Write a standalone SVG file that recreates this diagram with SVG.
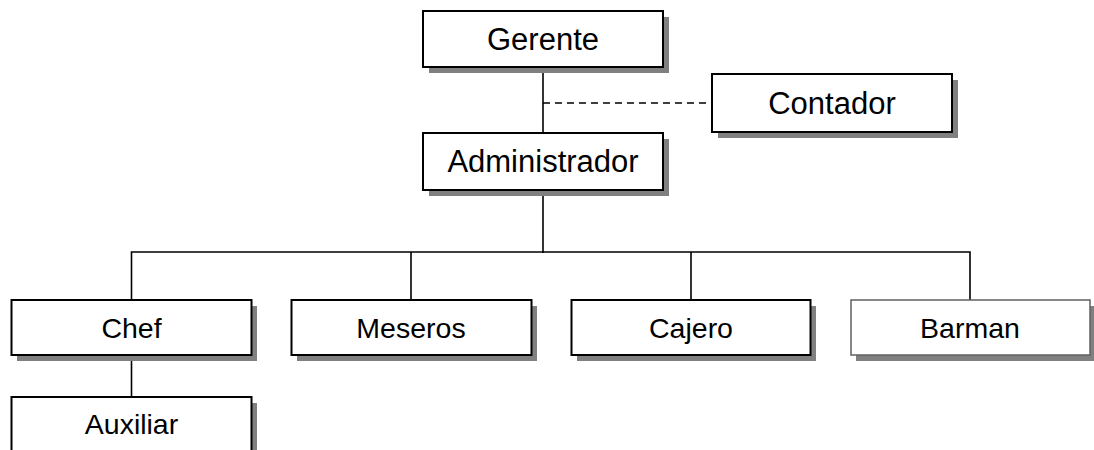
<svg xmlns="http://www.w3.org/2000/svg" width="1094" height="450" viewBox="0 0 1094 450">
  <style>
    .shadow { fill: #808080; stroke: none; }
    .box { fill: #ffffff; stroke: #000000; stroke-width: 2; }
    .box-light { fill: #ffffff; stroke: #606060; stroke-width: 1.5; }
    .label { font-family: "Liberation Sans", Arial, sans-serif; fill: #000000; text-anchor: middle; dominant-baseline: central; }
    .top { font-size: 31px; }
    .low { font-size: 28.5px; }
    .link { fill: none; stroke: #000000; stroke-width: 1.6; }
    .dashed { stroke-dasharray: 7 5; }
  </style>

  <rect width="1094" height="450" fill="#ffffff"/>

  <!-- connectors -->
  <g id="connectors">
    <path class="link" d="M543 67 V133"/>
    <path class="link dashed" d="M543 103 H712"/>
    <path class="link" d="M543 190 V253"/>
    <path class="link" d="M131.5 300 V252 H970 V300"/>
    <path class="link" d="M411 252 V300"/>
    <path class="link" d="M691 252 V300"/>
    <path class="link" d="M131.5 355 V397"/>
  </g>

  <g id="gerente">
    <rect class="shadow" x="429" y="17" width="240" height="56"/>
    <rect class="box" x="423" y="11" width="240" height="56"/>
    <text class="label top" x="543" y="39">Gerente</text>
  </g>

  <g id="contador">
    <rect class="shadow" x="718" y="80" width="240" height="58"/>
    <rect class="box" x="712" y="74" width="240" height="58"/>
    <text class="label top" x="832" y="103">Contador</text>
  </g>

  <g id="administrador">
    <rect class="shadow" x="429" y="139" width="240" height="57"/>
    <rect class="box" x="423" y="133" width="240" height="57"/>
    <text class="label top" x="543" y="161.5">Administrador</text>
  </g>

  <g id="chef">
    <rect class="shadow" x="17" y="306" width="240" height="55"/>
    <rect class="box" x="11.5" y="300" width="240" height="55"/>
    <text class="label low" x="131.5" y="327.5">Chef</text>
  </g>

  <g id="meseros">
    <rect class="shadow" x="297" y="306" width="240" height="55"/>
    <rect class="box" x="291.5" y="300" width="240" height="55"/>
    <text class="label low" x="411" y="327.5">Meseros</text>
  </g>

  <g id="cajero">
    <rect class="shadow" x="577" y="306" width="239" height="55"/>
    <rect class="box" x="571.5" y="300" width="239" height="55"/>
    <text class="label low" x="691" y="327.5">Cajero</text>
  </g>

  <g id="barman">
    <rect class="shadow" x="856" y="306" width="240" height="55"/>
    <rect class="box-light" x="851" y="300" width="239" height="55"/>
    <text class="label low" x="970" y="327.5">Barman</text>
  </g>

  <g id="auxiliar">
    <rect class="shadow" x="17" y="403" width="240" height="60"/>
    <rect class="box" x="11.5" y="397" width="240" height="60"/>
    <text class="label low" x="131.5" y="424">Auxiliar</text>
  </g>
</svg>
